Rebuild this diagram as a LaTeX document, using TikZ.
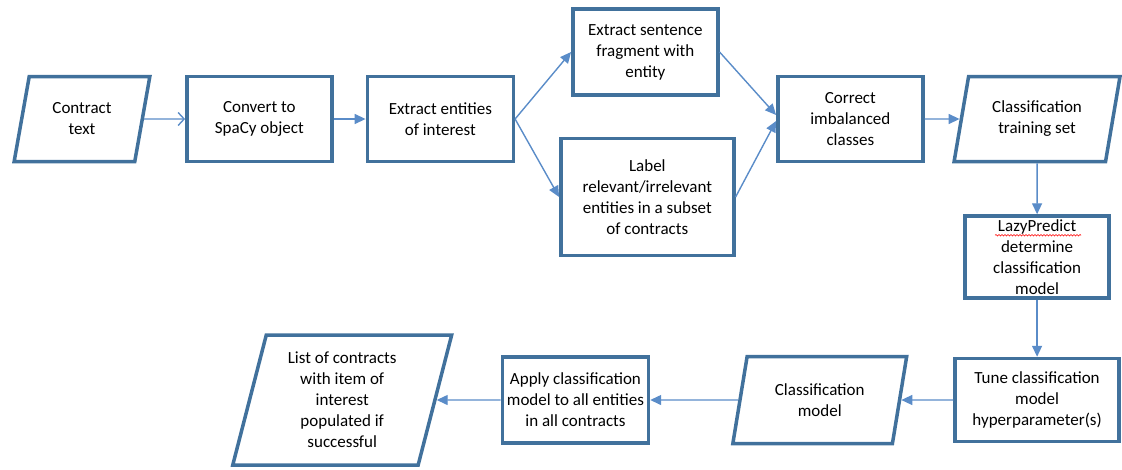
\documentclass[tikz,border=0pt]{standalone}
\usepackage{fontspec}
\setmainfont{Carlito}
\usetikzlibrary{positioning,shapes.geometric,arrows.meta,decorations.pathmorphing}
\definecolor{boxblue}{HTML}{41719C}
\definecolor{lineblue}{HTML}{5A8CC8}

\begin{document}
\begin{tikzpicture}[x=1pt,y=-1pt,
						procbox/.style={rectangle,draw=boxblue,line width=3.5pt,align=center,inner sep=2pt,font=\fontsize{17}{21}\selectfont},
						databox/.style={trapezium,trapezium left angle=76,trapezium right angle=104,trapezium stretches=true,draw=boxblue,line width=3.5pt,align=center,inner sep=2pt,font=\fontsize{17}{21}\selectfont},
						flow/.style={draw=lineblue,line width=1.4pt,-{Triangle[length=11pt,width=10pt]}},
						openflow/.style={draw=lineblue,line width=1.4pt,-{Straight Barb[length=6pt,width=13pt]}}]
		\useasboundingbox (0,0) rectangle (1122,469);

		\node[databox,minimum width=136pt,minimum height=85pt]	at (82,119)	(text)	{Contract\\text};
		\node[procbox,minimum width=145pt,minimum height=85pt,right=41pt of text]		(convert)	{Convert to\\SpaCy object};
		\node[procbox,minimum width=146pt,minimum height=85pt,right=32pt of convert]	(ents)		{Extract entities\\of interest};
		\node[procbox,minimum width=145pt,minimum height=86pt,right=56pt of ents.east,yshift=67pt]	(frag)	{Extract sentence\\fragment with\\entity};
		\node[procbox,minimum width=173pt,minimum height=117pt,right=44pt of ents.east,yshift=-78pt]	(label)	{Label\\relevant/irrelevant\\entities in a subset\\of contracts};
		\node[procbox,minimum width=145pt,minimum height=85pt,right=261pt of ents]		(correct)	{Correct\\imbalanced\\classes};
		\node[databox,minimum width=166pt,minimum height=85pt,right=35pt of correct]	(train)		{Classification\\training set};
		\node[procbox,minimum width=144pt,minimum height=82pt,below=51pt of train]		(lazy)		{LazyPredict\\determine\\classification\\model};
		\node[procbox,minimum width=164pt,minimum height=83pt,below=57pt of lazy]		(tune)		{Tune classification\\model\\hyperparameter(s)};
		\node[databox,minimum width=174pt,minimum height=87pt,left=52pt of tune]		(model)		{Classification\\model};
		\node[procbox,minimum width=146pt,minimum height=86pt,left=88pt of model]		(apply)		{Apply classification\\model to all entities\\in all contracts};
		\node[databox,minimum width=219pt,minimum height=130pt,left=64pt of apply]		(list)		{List of contracts\\with item of\\interest\\populated if\\successful};

		\draw[openflow] (text) -- (convert);
		\draw[flow] (convert) -- (ents);
		\draw[flow] (ents.east) -- (frag.west);
		\draw[flow] (ents.east) -- (label.west);
		\draw[flow] (frag.east) -- ([yshift=4pt]correct.west);
		\draw[flow] (label.east) -- ([yshift=-2pt]correct.west);
		\draw[flow] (correct) -- (train);
		\draw[flow] (train) -- (lazy);
		\draw[flow] (lazy) -- (tune);
		\draw[flow] (tune) -- (model);
		\draw[flow] (model) -- (apply);
		\draw[flow] (apply) -- (list);

		\draw[red,line width=0.6pt,decorate,decoration={snake,amplitude=0.8pt,segment length=3pt}] ([xshift=-42pt,yshift=-21pt]lazy.north) -- ([xshift=44pt,yshift=-21pt]lazy.north);
	\end{tikzpicture}
\end{document}
